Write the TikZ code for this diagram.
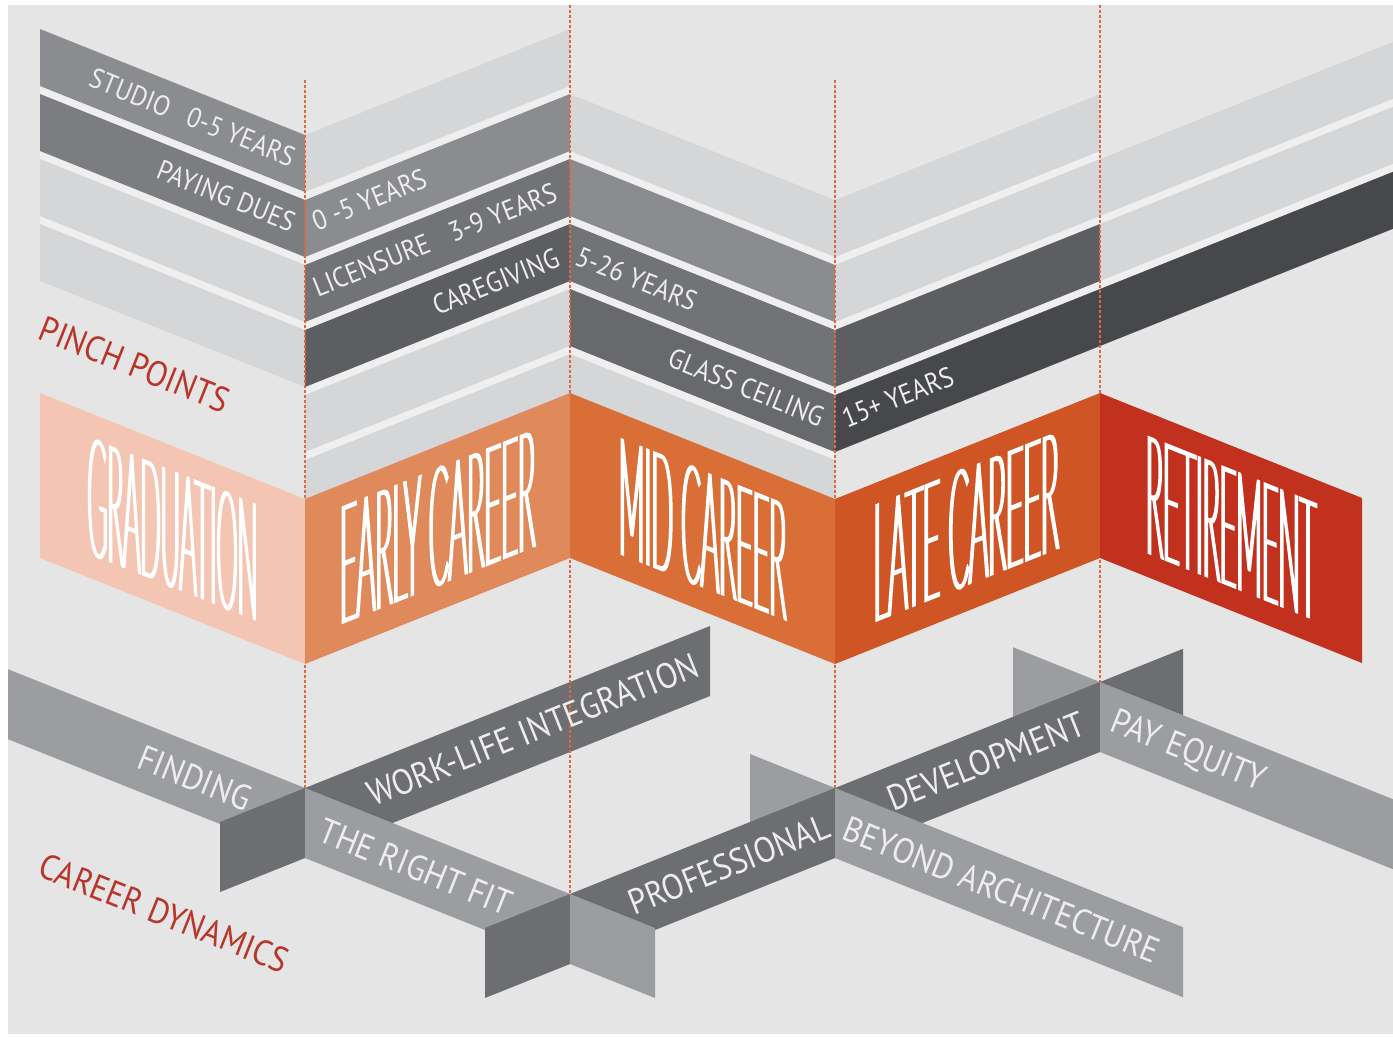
\documentclass[tikz,border=0pt]{standalone}
\usepackage{graphicx}
\usepackage{fontspec}
\setmainfont{PT Sans}
\newfontfamily\labelfont{PT Sans}[FakeStretch=0.9]
\IfFontExistsTF{Lato Hairline}
  {\newfontfamily\bandfont{Lato Hairline}[FakeStretch=0.17,FakeBold=1.9]}
  {\IfFontExistsTF{Lato Light}
    {\newfontfamily\bandfont{Lato Light}[FakeStretch=0.17,FakeBold=1.2]}
    {\newfontfamily\bandfont{Lato}[FakeStretch=0.17]}}

\definecolor{paper}{HTML}{E5E5E5}
\definecolor{seam}{HTML}{EFEFEF}
\definecolor{sPale}{HTML}{D5D6D8}
\definecolor{sMid}{HTML}{8B8C8F}
\definecolor{sMidd}{HTML}{7C7D80}
\definecolor{sDim}{HTML}{727376}
\definecolor{sDimd}{HTML}{68696C}
\definecolor{sDark}{HTML}{5D5E61}
\definecolor{sDarkest}{HTML}{47484B}
\definecolor{ribLight}{HTML}{9C9DA0}
\definecolor{ribDark}{HTML}{6D6E71}
\definecolor{foldred}{HTML}{E2673F}
\definecolor{bGrad}{HTML}{F5C5B4}
\definecolor{bEarly}{HTML}{E0895A}
\definecolor{bMid}{HTML}{D96F37}
\definecolor{bLate}{HTML}{CF5624}
\definecolor{bRetire}{HTML}{C1311E}
\definecolor{headred}{HTML}{B9352A}
\definecolor{labelwhite}{HTML}{EDEDED}

% stripe k of a column: x from #1 to #3, zigzag offset #2 and #4
\newcommand{\topstripe}[6]{\fill[#6] (#1,{#2+65*#5-36}) -- (#3,{#4+65*#5-36}) -- (#3,{#4+65*#5+21}) -- (#1,{#2+65*#5+21}) -- cycle;}
\newcommand{\stripegap}[6]{\fill[seam] (#1,{#2+65*#5-36}) -- (#3,{#4+65*#5-36}) -- (#3,{#4+65*#6+21}) -- (#1,{#2+65*#6+21}) -- cycle;}
% ribbon piece: colour, x0, top at x0, slope, from, to
\newcommand{\ribbon}[6]{\fill[#1] (#5,{#3+(#4)*(#5-#2)}) -- (#6,{#3+(#4)*(#6-#2)}) -- (#6,{#3+(#4)*(#6-#2)+70}) -- (#5,{#3+(#4)*(#5-#2)+70}) -- cycle;}
% tall stage names
\newcommand{\stagename}[3]{\resizebox{#1}{#2}{\bandfont\fontsize{160}{160}\selectfont #3}}

\begin{document}
\begin{tikzpicture}[x=1pt,y=-1pt,
  foldline/.style={draw=foldred,line width=1.2pt,dash pattern=on 3pt off 2pt},
  bandtext/.style={text=white,inner sep=0pt,transform shape},
  toplabel/.style={font=\labelfont\fontsize{28}{28}\selectfont,text=labelwhite,inner sep=0pt},
  riblabel/.style={font=\labelfont\fontsize{35.5}{35.5}\selectfont,text=labelwhite,inner sep=0pt},
  headlabel/.style={font=\labelfont\fontsize{35.5}{35.5}\selectfont,text=headred,inner sep=0pt}]
\useasboundingbox (0,0) rectangle (1393,1037);
\fill[white] (0,0) rectangle (1393,1037);
\fill[paper] (8,5) rectangle (1393,1034);

\begin{scope}
\clip (8,5) rectangle (1393,1034);
% pinch point stripes
\stripegap{40}{0}{305}{106}{1}{4}
\foreach \k/\c in {1/sMid,2/sMidd,3/sPale,4/sPale} {\topstripe{40}{0}{305}{106}{\k}{\c}}
\stripegap{305}{106}{570}{0}{1}{6}
\foreach \k/\c in {1/sPale,2/sMid,3/sDim,4/sDark,5/sPale,6/sPale} {\topstripe{305}{106}{570}{0}{\k}{\c}}
\stripegap{570}{0}{835}{106}{2}{6}
\foreach \k/\c in {2/sPale,3/sMid,4/sDim,5/sDimd,6/sPale} {\topstripe{570}{0}{835}{106}{\k}{\c}}
\stripegap{835}{106}{1100}{0}{2}{5}
\foreach \k/\c in {2/sPale,3/sPale,4/sDark,5/sDarkest} {\topstripe{835}{106}{1100}{0}{\k}{\c}}
\stripegap{1100}{0}{1393}{-117.2}{3}{5}
\foreach \k/\c in {3/sPale,4/sPale,5/sDarkest} {\topstripe{1100}{0}{1393}{-117.2}{\k}{\c}}

% career dynamics ribbons
\ribbon{ribLight}{305}{788}{0.4}{8}{305}
\ribbon{ribDark}{305}{788}{-0.4}{220}{305}
\ribbon{ribDark}{305}{788}{-0.4}{305}{710}
\ribbon{ribLight}{305}{788}{0.4}{305}{570}
\ribbon{ribLight}{1100}{682}{0.4}{1013}{1100}
\ribbon{ribLight}{835}{788}{0.4}{750}{835}
\ribbon{ribDark}{570}{894}{-0.4}{485}{835}
\ribbon{ribLight}{305}{788}{0.4}{570}{655}
\ribbon{ribDark}{570}{894}{-0.4}{835}{1100}
\ribbon{ribLight}{835}{788}{0.4}{835}{1183}
\ribbon{ribDark}{570}{894}{-0.4}{1100}{1183}
\ribbon{ribLight}{1100}{682}{0.4}{1100}{1393}
\end{scope}

% fold lines
\coordinate (c1) at (305,788);
\coordinate (c2) at (570,894);
\coordinate (c3) at (835,788);
\coordinate (c4) at (1100,682);
\draw[foldline] (305,80) -- (c1);
\draw[foldline] (570,5) -- (c2);
\draw[foldline] (835,80) -- (c3);
\draw[foldline] (1100,5) -- (c4);

% career band
\fill[bGrad] (40,393) -- (305,499) -- (305,664) -- (40,558) -- cycle;
\fill[bEarly] (305,499) -- (570,393) -- (570,558) -- (305,664) -- cycle;
\fill[bMid] (570,393) -- (835,499) -- (835,664) -- (570,558) -- cycle;
\fill[bLate] (835,499) -- (1100,393) -- (1100,558) -- (835,664) -- cycle;
\fill[bRetire] (1100,393) -- (1362,498) -- (1362,663) -- (1100,558) -- cycle;

\node[bandtext,yslant=-0.4] (grad) at (172.5,529) {\stagename{170pt}{115pt}{GRADUATION}};
\node[bandtext,yslant=0.4] (early) at (437.5,527) {\stagename{195pt}{116pt}{EARLY CAREER}};
\node[bandtext,yslant=-0.4] (mid) at (702.5,529) {\stagename{167pt}{115pt}{MID CAREER}};
\node[bandtext,yslant=0.4] (late) at (966,527) {\stagename{185pt}{116pt}{LATE CAREER}};
\node[bandtext,yslant=-0.4] (retire) at (1231,528) {\stagename{170pt}{115pt}{RETIREMENT}};

% stripe labels
\node[toplabel,rotate=-21.8,anchor=east] (studio) at (294,158) {STUDIO\hspace{0.7em}0-5 YEARS};
\node[toplabel,rotate=-21.8,anchor=east] (dues) at (294,223) {PAYING DUES};
\node[toplabel,rotate=21.8,anchor=west] (early05) at (313,222) {0 -5 YEARS};
\node[toplabel,rotate=21.8,anchor=west] (licence) at (314,288) {LICENSURE\hspace{0.8em}3-9 YEARS};
\node[toplabel,rotate=21.8,anchor=east] (care) at (558,257) {CAREGIVING};
\node[toplabel,rotate=-21.8,anchor=west] (mid526) at (577,255) {5-26 YEARS};
\node[toplabel,rotate=-21.8,anchor=east] (glass) at (823,418) {GLASS CEILING};
\node[toplabel,rotate=21.8,anchor=west] (late15) at (843,419) {15+ YEARS};

% ribbon labels
\node[riblabel,rotate=-21.8,anchor=east] (finding) at (250,800) {FINDING};
\node[riblabel,rotate=-21.8,anchor=west] (rightfit) at (321,829) {THE RIGHT FIT};
\node[riblabel,rotate=21.8,anchor=east] (worklife) at (697,664) {WORK-LIFE INTEGRATION};
\node[riblabel,rotate=21.8,anchor=east] (prof) at (828,825) {PROFESSIONAL};
\node[riblabel,rotate=21.8,anchor=east] (devel) at (1083,722) {DEVELOPMENT};
\node[riblabel,rotate=-21.8,anchor=west] (beyond) at (845,827) {BEYOND ARCHITECTURE};
\node[riblabel,rotate=-21.8,anchor=west] (payeq) at (1112,722) {PAY EQUITY};

% headings
\node[headlabel,rotate=-21.8,anchor=west] (pinch) at (41,327) {PINCH POINTS};
\node[headlabel,rotate=-21.8,anchor=west] (dynamics) at (41,864) {CAREER DYNAMICS};
\end{tikzpicture}
\end{document}
